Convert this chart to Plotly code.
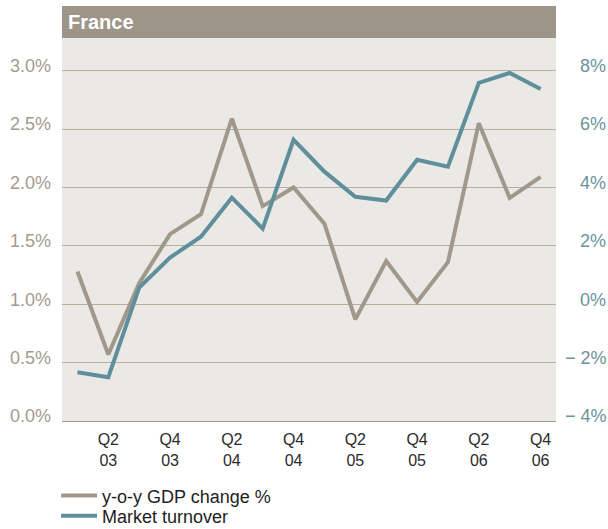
import plotly.graph_objects as go

quarters = ["Q1 03", "Q2 03", "Q3 03", "Q4 03", "Q1 04", "Q2 04", "Q3 04", "Q4 04",
            "Q1 05", "Q2 05", "Q3 05", "Q4 05", "Q1 06", "Q2 06", "Q3 06", "Q4 06"]
gdp_change = [1.28, 0.57, 1.18, 1.60, 1.77, 2.59, 1.84, 2.00,
              1.69, 0.87, 1.37, 1.02, 1.36, 2.55, 1.91, 2.09]
market_turnover = [-2.33, -2.50, 0.57, 1.60, 2.31, 3.65, 2.59, 5.63,
                   4.54, 3.68, 3.55, 4.95, 4.71, 7.58, 7.92, 7.37]
x_tick_labels = ["Q2<br>03", "Q4<br>03", "Q2<br>04", "Q4<br>04",
                 "Q2<br>05", "Q4<br>05", "Q2<br>06", "Q4<br>06"]
left_ticks = [0, 0.5, 1.0, 1.5, 2.0, 2.5, 3.0]
left_tick_labels = ["0.0%", "0.5%", "1.0%", "1.5%", "2.0%", "2.5%", "3.0%"]
right_ticks = [-4, -2, 0, 2, 4, 6, 8]
right_tick_labels = ["\u2212\u00a04%", "\u2212\u00a02%", "\u00a0\u00a0\u00a00%", "\u00a0\u00a0\u00a02%",
                     "\u00a0\u00a0\u00a04%", "\u00a0\u00a0\u00a06%", "\u00a0\u00a0\u00a08%"]
title_text = "France"

GDP_COLOR = "#a0988b"
MT_COLOR = "#5f8f9a"
FONT = "Liberation Sans, Arial, sans-serif"

xs = list(range(len(quarters)))

fig = go.Figure()
fig.add_trace(go.Scatter(x=xs, y=gdp_change, mode="lines", name="y-o-y GDP change %",
                         line=dict(color=GDP_COLOR, width=4), yaxis="y", legend="legend"))
fig.add_trace(go.Scatter(x=xs, y=market_turnover, mode="lines", name="Market turnover",
                         line=dict(color=MT_COLOR, width=4), yaxis="y2", legend="legend2"))

plot_h = 383.5
top_range = 3.0 + 32.7 / 117.0

fig.update_layout(
    width=608, height=529,
    margin=dict(l=62, r=52, t=38, b=107.5, pad=0, autoexpand=False),
    paper_bgcolor="white",
    plot_bgcolor="#ebe9e5",
    font=dict(family=FONT),
    hovermode=False,
    xaxis=dict(range=[-0.5, 15.5], tickvals=[1, 3, 5, 7, 9, 11, 13, 15], ticktext=x_tick_labels,
               showgrid=False, zeroline=False, showline=True, linecolor="#a39a8e", linewidth=1,
               tickfont=dict(size=16, color="#2b2b2b"), ticks="", ticklabelstandoff=4,
               automargin=False),
    yaxis=dict(range=[0, top_range], tickvals=left_ticks, ticktext=left_tick_labels,
               showgrid=True, gridcolor="#b7ada1", gridwidth=1, zeroline=False, showline=False,
               tickfont=dict(size=18, color="#a39b90"), ticks="", ticklabelstandoff=10,
               ticklabelshift=-5, automargin=False),
    yaxis2=dict(range=[-4, 4 * top_range - 4], tickvals=right_ticks, ticktext=right_tick_labels,
                overlaying="y", side="right", showgrid=False, zeroline=False, showline=False,
                tickfont=dict(size=18, color="#6b949c"), ticks="", ticklabelstandoff=8,
                ticklabelshift=-5, automargin=False),
    legend=dict(x=-0.012, xanchor="left", y=-0.147, yanchor="top", bgcolor="rgba(0,0,0,0)",
                font=dict(size=18, color="#1e1e1e"), itemwidth=36),
    legend2=dict(x=-0.012, xanchor="left", y=-0.200, yanchor="top", bgcolor="rgba(0,0,0,0)",
                 font=dict(size=18, color="#1e1e1e"), itemwidth=36),
    showlegend=True,
    shapes=[dict(type="rect", xref="paper", yref="paper", x0=0, x1=1, y0=1, y1=1 + 32 / plot_h,
                 fillcolor="#9d9588", line=dict(width=0), layer="above")],
    annotations=[dict(text="<b>" + title_text + "</b>", xref="paper", yref="paper", x=0,
                      y=1 + 16 / plot_h, xanchor="left", yanchor="middle", xshift=4, showarrow=False,
                      font=dict(size=20, color="white", family=FONT))],
)

fig.write_html("out.html", config={"displayModeBar": False, "staticPlot": True},
               post_script="document.body.style.margin='0';")
